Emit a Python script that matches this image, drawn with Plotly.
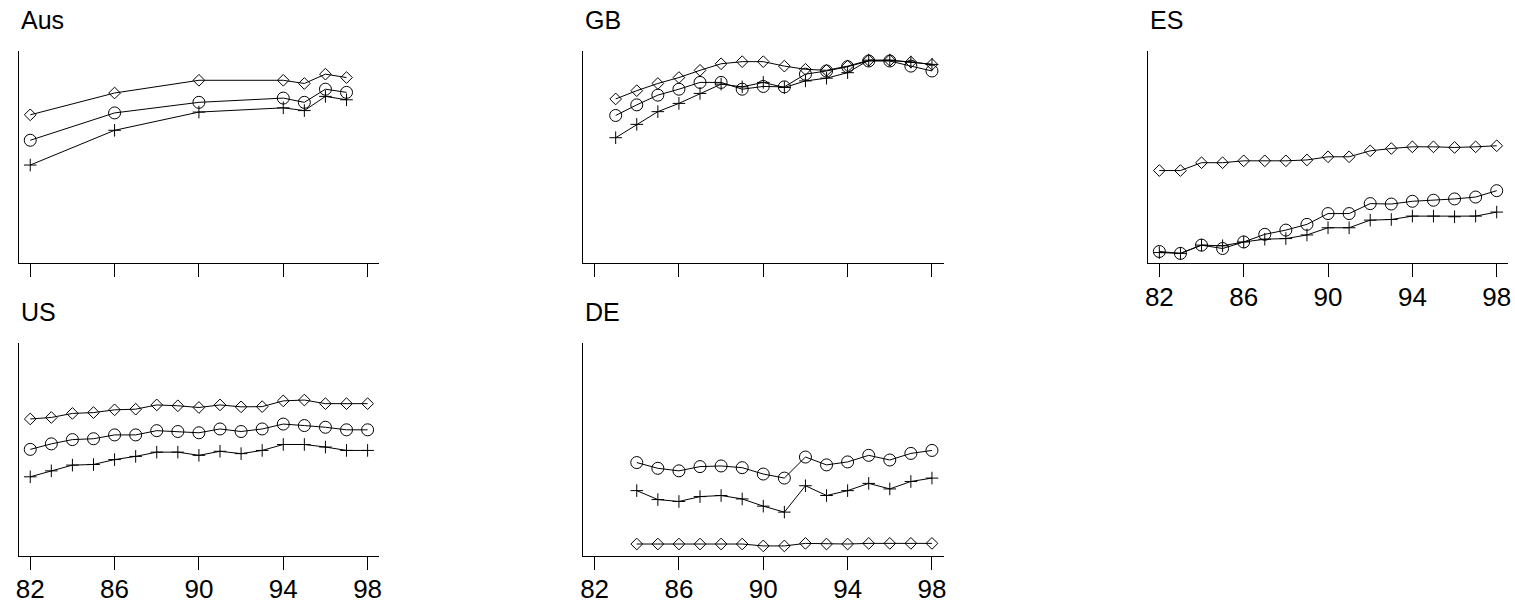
import plotly.graph_objects as go

W, H = 1515, 604

# ---- data -------------------------------------------------------------
tick_years = [82, 86, 90, 94, 98]

aus_years = [82, 86, 90, 94, 95, 96, 97]
aus_diamond = [70.1, 80.4, 86.4, 86.4, 84.9, 89.3, 87.7]
aus_circle = [58.1, 71.0, 76.0, 78.0, 76.0, 82.2, 80.7]
aus_plus = [46.4, 62.8, 71.4, 73.4, 72.1, 78.8, 77.2]

gb_years = list(range(83, 99))
gb_diamond = [77.6, 81.5, 84.9, 87.7, 91.1, 94.2, 95.2, 95.2, 93.1, 91.6,
              91.1, 93.1, 95.8, 95.8, 95.0, 93.9]
gb_circle = [69.8, 74.8, 79.4, 82.2, 85.4, 85.4, 82.2, 83.5, 83.3, 89.3,
             90.8, 92.8, 95.5, 95.5, 93.1, 90.8]
gb_plus = [59.3, 65.6, 71.6, 75.5, 80.2, 84.6, 83.3, 85.4, 83.0, 86.1,
           87.4, 90.0, 95.9, 95.9, 95.0, 93.9]

es_years = list(range(82, 99))
es_diamond = [43.8, 43.8, 47.5, 47.5, 48.4, 48.4, 48.4, 48.8, 50.3, 50.3,
              53.1, 54.2, 55.0, 55.0, 54.7, 55.0, 55.5]
es_circle = [5.6, 4.7, 8.6, 7.0, 10.1, 13.7, 15.7, 18.4, 23.5, 23.5,
             28.2, 28.0, 29.3, 29.8, 30.4, 31.3, 34.3]
es_plus = [5.1, 4.7, 8.6, 8.3, 10.1, 11.4, 11.7, 13.4, 16.8, 16.8,
           20.4, 20.7, 22.3, 22.3, 22.0, 22.3, 24.2]

us_years = list(range(82, 99))
us_diamond = [64.4, 65.1, 67.0, 67.4, 68.7, 69.0, 71.0, 70.6, 69.8, 71.0,
              70.1, 70.2, 72.9, 73.3, 71.6, 71.6, 71.6]
us_circle = [50.1, 52.7, 54.7, 55.1, 56.9, 56.9, 58.9, 58.5, 57.9, 59.7,
             58.5, 59.7, 62.0, 61.3, 60.5, 59.3, 59.3]
us_plus = [37.2, 40.0, 42.7, 43.0, 45.3, 46.8, 48.8, 48.8, 47.3, 49.2,
           48.1, 49.6, 52.4, 52.4, 51.2, 49.6, 49.6]

de_years = list(range(84, 99))
de_diamond = [5.6, 5.6, 5.6, 5.6, 5.6, 5.6, 4.7, 4.7, 5.9, 5.6,
              5.6, 5.9, 5.9, 5.9, 5.9]
de_circle = [43.9, 41.2, 40.0, 42.0, 42.3, 41.5, 38.5, 36.6, 46.5, 42.8,
             44.2, 47.3, 45.1, 48.2, 49.6]
de_plus = [30.7, 26.5, 25.6, 27.9, 28.4, 26.8, 23.4, 20.6, 33.0, 28.4,
           30.7, 34.1, 31.5, 35.0, 36.6]

# ---- layout geometry (pixels) -----------------------------------------
col_left = [15.7, 582.3, 1149.3]
col_width = 362.0
row_top = [52.0, 346.7]
row_bottom = [266.0, 561.5]

panels = [
    # title, col, row, years, diamond, circle, plus, tick labels
    ("Aus", 0, 0, aus_years, aus_diamond, aus_circle, aus_plus, False),
    ("GB", 1, 0, gb_years, gb_diamond, gb_circle, gb_plus, False),
    ("ES", 2, 0, es_years, es_diamond, es_circle, es_plus, True),
    ("US", 0, 1, us_years, us_diamond, us_circle, us_plus, True),
    ("DE", 1, 1, de_years, de_diamond, de_circle, de_plus, True),
]

FONT = "Liberation Sans, Arial, Helvetica, sans-serif"
fig = go.Figure()
layout = dict(
    width=W, height=H,
    margin=dict(l=0, r=0, t=0, b=0),
    paper_bgcolor="white", plot_bgcolor="white",
    showlegend=False,
    font=dict(family=FONT, size=26, color="black"),
    annotations=[],
)

symbols = [("diamond-open", 9), ("circle-open", 12), ("cross-thin-open", 9)]

for i, (title, col, row, yrs, dia, cir, plu, labels) in enumerate(panels):
    n = "" if i == 0 else str(i + 1)
    xa, ya = "x" + n, "y" + n
    x0 = col_left[col] / W
    x1 = (col_left[col] + col_width) / W
    y0 = (H - row_bottom[row]) / H
    y1 = (H - row_top[row]) / H

    for vals, (sym, size) in zip([dia, cir, plu], symbols):
        fig.add_trace(go.Scatter(
            x=yrs, y=vals, mode="lines+markers",
            line=dict(color="black", width=1),
            marker=dict(symbol=sym, size=size, color="black",
                        line=dict(color="black", width=1)),
            xaxis=xa, yaxis=ya, cliponaxis=False,
        ))

    layout["xaxis" + n] = dict(
        domain=[x0, x1], anchor=ya, range=[81.45, 98.55],
        tickmode="array", tickvals=tick_years,
        ticktext=[str(t) for t in tick_years],
        showticklabels=labels, ticks="outside", ticklen=13,
        tickwidth=1, tickcolor="black", ticklabelstandoff=-3,
        showline=True, linecolor="black", linewidth=1,
        showgrid=False, zeroline=False,
        tickfont=dict(family=FONT, size=26, color="black"),
    )
    layout["yaxis" + n] = dict(
        domain=[y0, y1], anchor=xa, range=[0, 100],
        showticklabels=False, ticks="",
        showline=True, linecolor="black", linewidth=1,
        showgrid=False, zeroline=False,
    )
    layout["annotations"].append(dict(
        text=title, xref="paper", yref="paper",
        x=col_left[col] / W, y=(H - (row_top[row] - 32)) / H,
        xanchor="left", yanchor="middle", showarrow=False,
        font=dict(family=FONT, size=25, color="black"),
    ))

fig.update_layout(**layout)
fig.write_html("out.html")
